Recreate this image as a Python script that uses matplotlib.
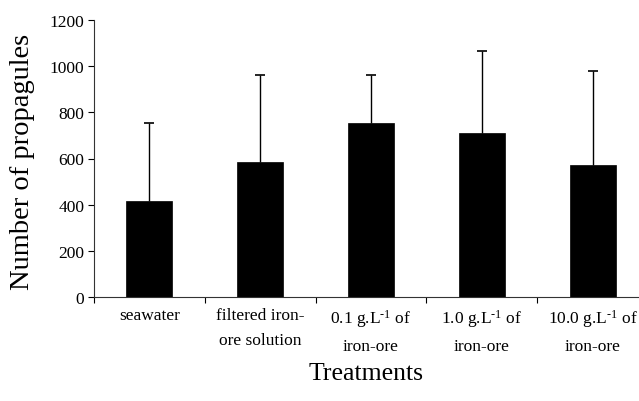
import matplotlib
matplotlib.use("Agg")
import matplotlib.pyplot as plt
import numpy as np

categories = ["seawater", "filtered iron-\nore solution",
              "0.1 g.L$^{\\text{-}1}$ of\niron-ore", "1.0 g.L$^{\\text{-}1}$ of\niron-ore",
              "10.0 g.L$^{\\text{-}1}$ of\niron-ore"]
means = [416, 583, 752, 709, 574]
upper_err = [338, 379, 210, 357, 406]
yticks = [0, 200, 400, 600, 800, 1000, 1200]

plt.rcParams['font.family'] = ['Liberation Serif', 'DejaVu Serif']
plt.rcParams['mathtext.fontset'] = 'custom'
plt.rcParams['mathtext.rm'] = 'Liberation Serif'
plt.rcParams['mathtext.it'] = 'Liberation Serif:italic'

fig = plt.figure(figsize=(6.39, 4.02), dpi=100)
W, H = 639, 402
left, right, bottom, top = 94, 648, 298, 21
ax = fig.add_axes([left / W, 1 - bottom / H, (right - left) / W, (bottom - top) / H])

x = np.arange(len(means))
ax.bar(x, means, width=0.415, color='black', edgecolor='black', linewidth=0.5, zorder=2)
eb = ax.errorbar(x, means, yerr=[[0] * len(means), upper_err], fmt='none', ecolor='black',
                 elinewidth=1.0, capsize=3.5, capthick=1.2, zorder=3)
eb[1][0].set_visible(False)

ax.set_xlim(-0.5, len(means) - 0.5)
ax.set_ylim(0, 1200)
ax.set_yticks(yticks)
ax.set_yticklabels([str(v) for v in yticks], fontsize=12.5)
ax.set_xticks(np.arange(len(means) + 1) - 0.5)
ax.set_xticklabels([])
ax.set_xticks(x, minor=True)
ax.set_xticklabels(categories, minor=True, fontsize=12.5, linespacing=1.75)
ax.tick_params(axis='x', which='minor', length=0, pad=7)
ax.tick_params(axis='x', which='major', length=4, direction='out', width=0.8)
ax.tick_params(axis='y', length=4, direction='out', width=0.8, pad=3)
for s in ['top', 'right']:
    ax.spines[s].set_visible(False)
for s in ['left', 'bottom']:
    ax.spines[s].set_linewidth(0.8)
    ax.spines[s].set_color('#333333')

fig.text(23 / W, 1 - 162 / H, "Number of propagules", rotation=90, fontsize=20.5,
         ha='center', va='center')
fig.text(366 / W, 1 - 374 / H, "Treatments", fontsize=18.5, ha='center', va='center')

fig.savefig("out.png", dpi=100)
